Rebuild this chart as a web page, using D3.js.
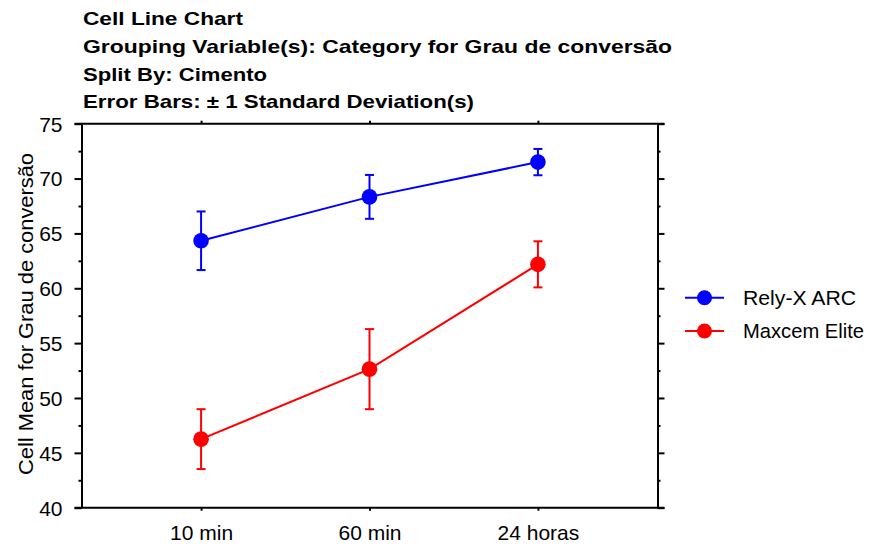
<!DOCTYPE html>
<html>
<head>
<meta charset="utf-8">
<script src="https://cdn.jsdelivr.net/npm/d3@7"></script>
<style>
  html, body { margin: 0; padding: 0; background: #fff; }
  svg { display: block; }
  text { font-family: "Liberation Sans", Arial, sans-serif; fill: #000; }
</style>
</head>
<body>
<div id="chart"></div>
<script>
const categories = ["10 min", "60 min", "24 horas"];
const seriesNames = ["Rely-X ARC", "Maxcem Elite"];
const seriesColors = ["#0000ff", "#ff0000"];
const relyMeans = [64.33, 68.33, 71.5];
const relySD = [2.67, 2.0, 1.2];
const maxcemMeans = [46.25, 52.63, 62.18];
const maxcemSD = [2.73, 3.65, 2.1];
const yTicks = [40, 45, 50, 55, 60, 65, 70, 75];
const yMinorTicks = [42.5, 47.5, 52.5, 57.5, 62.5, 67.5, 72.5];
const titleLines = [
  "Cell Line Chart",
  "Grouping Variable(s): Category for Grau de conversão",
  "Split By: Cimento",
  "Error Bars: \u00b1 1 Standard Deviation(s)"
];
const titleWidths = [160, 589, 184, 391];
const yLabel = "Cell Mean for Grau de conversão";

const W = 873, H = 552;
const L = 81.5, R = 657.5, T = 123.7, B = 507.7;

const svg = d3.select("#chart").append("svg").attr("width", W).attr("height", H);

const x = d3.scalePoint().domain(categories).range([L, R]).padding(0.71);
const y = d3.scaleLinear().domain([40, 75]).range([B, T]);

// Titles
titleLines.forEach((t, i) => {
  svg.append("text")
    .attr("x", 83).attr("y", 25 + i * 27.8)
    .attr("font-size", 18.5).attr("font-weight", "bold")
    .attr("textLength", titleWidths[i]).attr("lengthAdjust", "spacingAndGlyphs")
    .text(t);
});

// Axes
const axisStyle = g => {
  g.selectAll("path.domain").attr("stroke", "#000").attr("stroke-width", 2);
  g.selectAll(".tick line").attr("stroke", "#000").attr("stroke-width", 2);
  g.selectAll("text").attr("font-family", "Liberation Sans, Arial, sans-serif").attr("font-size", 21).attr("fill", "#000");
};

// left major
const gl = svg.append("g").attr("transform", `translate(${L},0)`)
  .call(d3.axisLeft(y).tickValues(yTicks).tickSize(7).tickSizeOuter(0).tickPadding(12).tickFormat(d3.format("d")));
axisStyle(gl);
gl.selectAll("text").attr("dy", "0.35em");
// left minor
const glm = svg.append("g").attr("transform", `translate(${L},0)`)
  .call(d3.axisLeft(y).tickValues(yMinorTicks).tickSize(3).tickSizeOuter(0).tickFormat(""));
axisStyle(glm);
glm.select("path.domain").remove();

// right major + minor
const gr = svg.append("g").attr("transform", `translate(${R},0)`)
  .call(d3.axisRight(y).tickValues(yTicks).tickSize(7).tickSizeOuter(0).tickFormat(""));
axisStyle(gr);
const grm = svg.append("g").attr("transform", `translate(${R},0)`)
  .call(d3.axisRight(y).tickValues(yMinorTicks).tickSize(3).tickSizeOuter(0).tickFormat(""));
axisStyle(grm);
grm.select("path.domain").remove();

// bottom
const gb = svg.append("g").attr("transform", `translate(0,${B})`)
  .call(d3.axisBottom(x).tickSize(3).tickSizeOuter(0).tickPadding(14));
axisStyle(gb);
gb.select("path.domain").attr("d", `M${L - 7},0H${R + 7}`);

// top
const gt = svg.append("g").attr("transform", `translate(0,${T})`)
  .call(d3.axisTop(x).tickSize(3).tickSizeOuter(0).tickFormat(""));
axisStyle(gt);
gt.select("path.domain").attr("d", `M${L - 7},0H${R + 7}`);

// Y label
svg.append("text")
  .attr("transform", `translate(32.5,314) rotate(-90)`)
  .attr("text-anchor", "middle")
  .attr("font-size", 21)
  .attr("textLength", 322).attr("lengthAdjust", "spacingAndGlyphs")
  .text(yLabel);

// Series
const series = [
  { name: seriesNames[0], color: seriesColors[0], means: relyMeans, sd: relySD },
  { name: seriesNames[1], color: seriesColors[1], means: maxcemMeans, sd: maxcemSD }
];

const line = d3.line().x((d, i) => x(categories[i])).y(d => y(d));

series.forEach(s => {
  const g = svg.append("g");
  g.append("path").datum(s.means).attr("d", line)
    .attr("fill", "none").attr("stroke", s.color).attr("stroke-width", 2);
  s.means.forEach((m, i) => {
    const cx = x(categories[i]);
    const y1 = y(m + s.sd[i]), y2 = y(m - s.sd[i]);
    g.append("line").attr("x1", cx).attr("x2", cx).attr("y1", y1).attr("y2", y2)
      .attr("stroke", s.color).attr("stroke-width", 2);
    [y1, y2].forEach(yy => {
      g.append("line").attr("x1", cx - 4.5).attr("x2", cx + 4.5).attr("y1", yy).attr("y2", yy)
        .attr("stroke", s.color).attr("stroke-width", 2);
    });
    g.append("circle").attr("cx", cx).attr("cy", y(m)).attr("r", 7.8).attr("fill", s.color);
  });
});

// Legend
const legendY = [297.7, 331];
const legendWidths = [113, 121];
series.forEach((s, i) => {
  const g = svg.append("g").attr("transform", `translate(0,${legendY[i]})`);
  g.append("line").attr("x1", 685).attr("x2", 724).attr("y1", 0).attr("y2", 0)
    .attr("stroke", s.color).attr("stroke-width", 2);
  g.append("circle").attr("cx", 704.5).attr("cy", 0).attr("r", 7.5).attr("fill", s.color);
  g.append("text").attr("x", 743).attr("y", 0).attr("dy", "0.35em")
    .attr("font-size", 20.5)
    .attr("textLength", legendWidths[i]).attr("lengthAdjust", "spacingAndGlyphs")
    .text(s.name);
});
</script>
</body>
</html>
